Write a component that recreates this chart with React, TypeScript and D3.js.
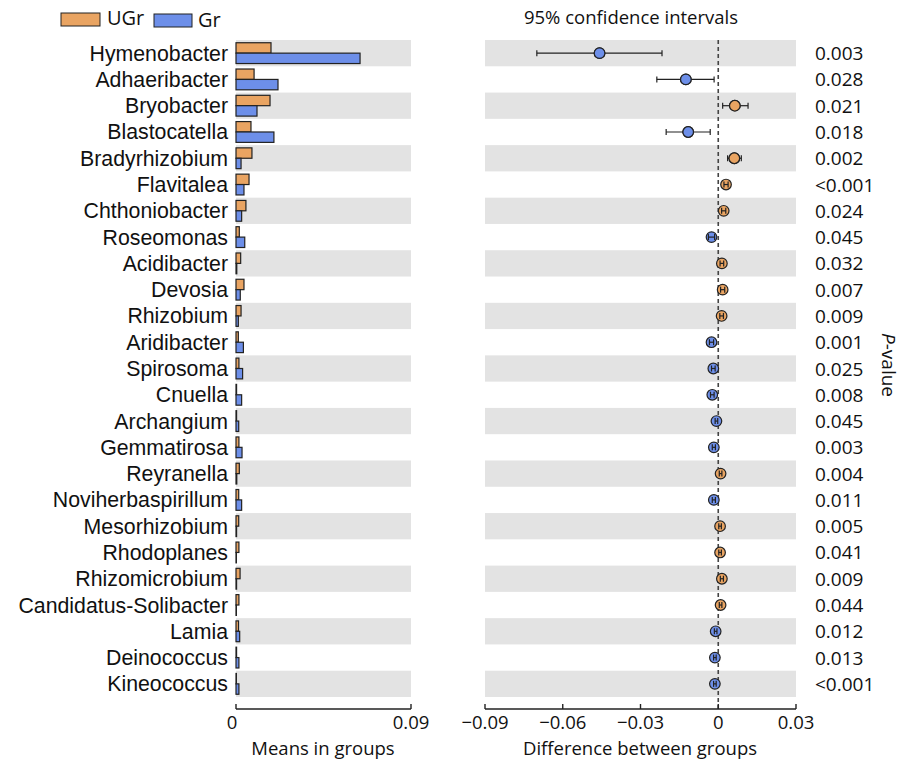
import React from 'react';
import * as d3 from 'd3';

// genera, top to bottom
const genera = [
  'Hymenobacter', 'Adhaeribacter', 'Bryobacter', 'Blastocatella', 'Bradyrhizobium',
  'Flavitalea', 'Chthoniobacter', 'Roseomonas', 'Acidibacter', 'Devosia',
  'Rhizobium', 'Aridibacter', 'Spirosoma', 'Cnuella', 'Archangium',
  'Gemmatirosa', 'Reyranella', 'Noviherbaspirillum', 'Mesorhizobium', 'Rhodoplanes',
  'Rhizomicrobium', 'Candidatus-Solibacter', 'Lamia', 'Deinococcus', 'Kineococcus',
];

// mean relative abundance per group
const meanUGr = [
  0.018, 0.0093, 0.0175, 0.0077, 0.0082,
  0.0067, 0.0051, 0.0017, 0.0024, 0.0041,
  0.0026, 0.0012, 0.0015, 0.0003, 0.0003,
  0.0015, 0.0017, 0.0014, 0.0014, 0.0015,
  0.0021, 0.0015, 0.0013, 0.0003, 0.0002,
];
const meanGr = [
  0.0638, 0.0216, 0.0108, 0.0195, 0.0026,
  0.0041, 0.0029, 0.0045, 0.0004, 0.0022,
  0.0012, 0.0038, 0.0034, 0.0029, 0.0014,
  0.0031, 0.0004, 0.0029, 0.0003, 0.0002,
  0.0003, 0.0002, 0.0019, 0.0015, 0.0015,
];

// difference between groups with 95% CI
const diff = [
  -0.0458, -0.0125, 0.0064, -0.0116, 0.0062,
  0.003, 0.0021, -0.0026, 0.0014, 0.0017,
  0.0013, -0.0026, -0.0019, -0.0023, -0.0007,
  -0.0017, 0.0009, -0.0017, 0.0007, 0.0007,
  0.0014, 0.0009, -0.001, -0.0013, -0.0013,
];
const ciLow = [
  -0.07, -0.0237, 0.0017, -0.0201, 0.0036,
  0.0022, 0.0013, -0.0038, 0.0007, 0.0009,
  0.0006, -0.0034, -0.0026, -0.003, -0.0012,
  -0.0023, 0.0004, -0.0023, 0.0002, 0.0002,
  0.0008, 0.0004, -0.0015, -0.0018, -0.0018,
];
const ciHigh = [
  -0.0217, -0.0016, 0.0115, -0.0031, 0.0089,
  0.0038, 0.0029, -0.0014, 0.0021, 0.0025,
  0.002, -0.0018, -0.0012, -0.0016, -0.0002,
  -0.0011, 0.0014, -0.0011, 0.0012, 0.0012,
  0.002, 0.0014, -0.0005, -0.0008, -0.0008,
];

const pValues = [
  '0.003', '0.028', '0.021', '0.018', '0.002',
  '<0.001', '0.024', '0.045', '0.032', '0.007',
  '0.009', '0.001', '0.025', '0.008', '0.045',
  '0.003', '0.004', '0.011', '0.005', '0.041',
  '0.009', '0.044', '0.012', '0.013', '<0.001',
];

const meanTicks = [0, 0.09];
const diffTicks = [-0.09, -0.06, -0.03, 0, 0.03];

const ORANGE = '#E9A462';
const BLUE = '#6D8FE9';
const BAND = '#E3E3E3';
const STROKE = '#222';
const SANS = 'Arial, "Liberation Sans", sans-serif';
const CAL = '"Open Sans", "Noto Sans", sans-serif';

const fmt = (v: number) => (v === 0 ? '0' : (v < 0 ? '\u22120' : '0') + d3.format('.2f')(Math.abs(v)).slice(1));

const App: React.FC = () => {
  const width = 909;
  const height = 761;

  const y = d3.scaleBand<string>().domain(genera).range([40, 697]).padding(0);
  const xMean = d3.scaleLinear().domain([0, 0.09]).range([236, 411]);
  const xDiff = d3.scaleLinear().domain([-0.09, 0.03]).range([485, 796]);
  const bw = y.bandwidth();
  const barH = 10.4;
  const axisY = 709;

  return (
    <div style={{ position: 'absolute', left: 0, top: 0 }}>
      <svg width={width} height={height} style={{ display: 'block', background: '#fff' }}>
        {/* legend */}
        <rect x={61} y={13} width={39} height={13} fill={ORANGE} stroke={STROKE} strokeWidth={1} />
        <text x={107} y={25} fontFamily={CAL} fontSize={20} fill="#111">UGr</text>
        <rect x={154} y={14} width={38} height={13} fill={BLUE} stroke={STROKE} strokeWidth={1} />
        <text x={198} y={27} fontFamily={CAL} fontSize={20} fill="#111">Gr</text>

        <text x={631} y={24} textAnchor="middle" fontFamily={CAL} fontSize={18.5} fill="#111">
          95% confidence intervals
        </text>

        {/* bands */}
        {genera.map((g, i) =>
          i % 2 === 0 ? (
            <g key={'band' + g}>
              <rect x={xMean(0)} y={y(g)} width={xMean(0.09) - xMean(0)} height={bw} fill={BAND} />
              <rect x={xDiff(-0.09)} y={y(g)} width={xDiff(0.03) - xDiff(-0.09)} height={bw} fill={BAND} />
            </g>
          ) : null
        )}

        {/* labels */}
        {genera.map((g) => (
          <text key={'lab' + g} x={228} y={(y(g) as number) + bw / 2 + 7.5} textAnchor="end"
            fontFamily={SANS} fontSize={21.3} fill="#111">
            {g}
          </text>
        ))}

        {/* bars */}
        {genera.map((g, i) => {
          const c = (y(g) as number) + bw / 2;
          return (
            <g key={'bar' + g}>
              <rect x={xMean(0)} y={c - barH} width={xMean(meanUGr[i]) - xMean(0)} height={barH}
                fill={ORANGE} stroke={STROKE} strokeWidth={1.2} />
              <rect x={xMean(0)} y={c} width={xMean(meanGr[i]) - xMean(0)} height={barH}
                fill={BLUE} stroke={STROKE} strokeWidth={1.2} />
            </g>
          );
        })}

        {/* zero line */}
        <line x1={xDiff(0)} x2={xDiff(0)} y1={40} y2={axisY} stroke="#444" strokeWidth={1.6} strokeDasharray="4,3" />

        {/* CI points */}
        {genera.map((g, i) => {
          const c = (y(g) as number) + bw / 2;
          return (
            <g key={'pt' + g}>
              <circle cx={xDiff(diff[i])} cy={c} r={5.3} fill={diff[i] < 0 ? BLUE : ORANGE} stroke={STROKE} strokeWidth={1.2} />
              <line x1={xDiff(ciLow[i])} x2={xDiff(ciHigh[i])} y1={c} y2={c} stroke={STROKE} strokeWidth={1.2} />
              <line x1={xDiff(ciLow[i])} x2={xDiff(ciLow[i])} y1={c - 3} y2={c + 3} stroke={STROKE} strokeWidth={1.2} />
              <line x1={xDiff(ciHigh[i])} x2={xDiff(ciHigh[i])} y1={c - 3} y2={c + 3} stroke={STROKE} strokeWidth={1.2} />
              {Math.abs(ciHigh[i] - ciLow[i]) > 0.004 ? (
                <circle cx={xDiff(diff[i])} cy={c} r={5.3} fill={diff[i] < 0 ? BLUE : ORANGE} stroke={STROKE} strokeWidth={1.2} />
              ) : null}
            </g>
          );
        })}

        {/* p-values */}
        {genera.map((g, i) => (
          <text key={'p' + g} x={815} y={(y(g) as number) + bw / 2 + 7} fontFamily={CAL} fontSize={19} fill="#111">
            {pValues[i]}
          </text>
        ))}
        <text transform="translate(882,365) rotate(90)" textAnchor="middle" fontFamily={CAL} fontSize={19} fill="#111">
          <tspan fontStyle="italic">P</tspan>-value
        </text>

        {/* left axis */}
        <line x1={xMean(0)} x2={xMean(0.09)} y1={axisY} y2={axisY} stroke={STROKE} strokeWidth={1.6} />
        {meanTicks.map((t) => (
          <g key={'mt' + t}>
            <line x1={xMean(t)} x2={xMean(t)} y1={axisY} y2={axisY - 5} stroke={STROKE} strokeWidth={1.4} />
            <text x={xMean(t) - (t === 0 ? 4 : 0)} y={729} textAnchor="middle" fontFamily={CAL} fontSize={18.5} fill="#111">
              {fmt(t)}
            </text>
          </g>
        ))}
        <text x={323} y={755} textAnchor="middle" fontFamily={CAL} fontSize={18.5} fill="#111">Means in groups</text>

        {/* right axis */}
        <line x1={xDiff(-0.09)} x2={xDiff(0.03)} y1={axisY} y2={axisY} stroke={STROKE} strokeWidth={1.6} />
        {diffTicks.map((t) => (
          <g key={'dt' + t}>
            <line x1={xDiff(t)} x2={xDiff(t)} y1={axisY} y2={axisY - 5} stroke={STROKE} strokeWidth={1.4} />
            <text x={xDiff(t)} y={729} textAnchor="middle" fontFamily={CAL} fontSize={18.5} fill="#111">
              {fmt(t)}
            </text>
          </g>
        ))}
        <text x={640} y={755} textAnchor="middle" fontFamily={CAL} fontSize={18.5} fill="#111">Difference between groups</text>
      </svg>
    </div>
  );
};

export default App;
